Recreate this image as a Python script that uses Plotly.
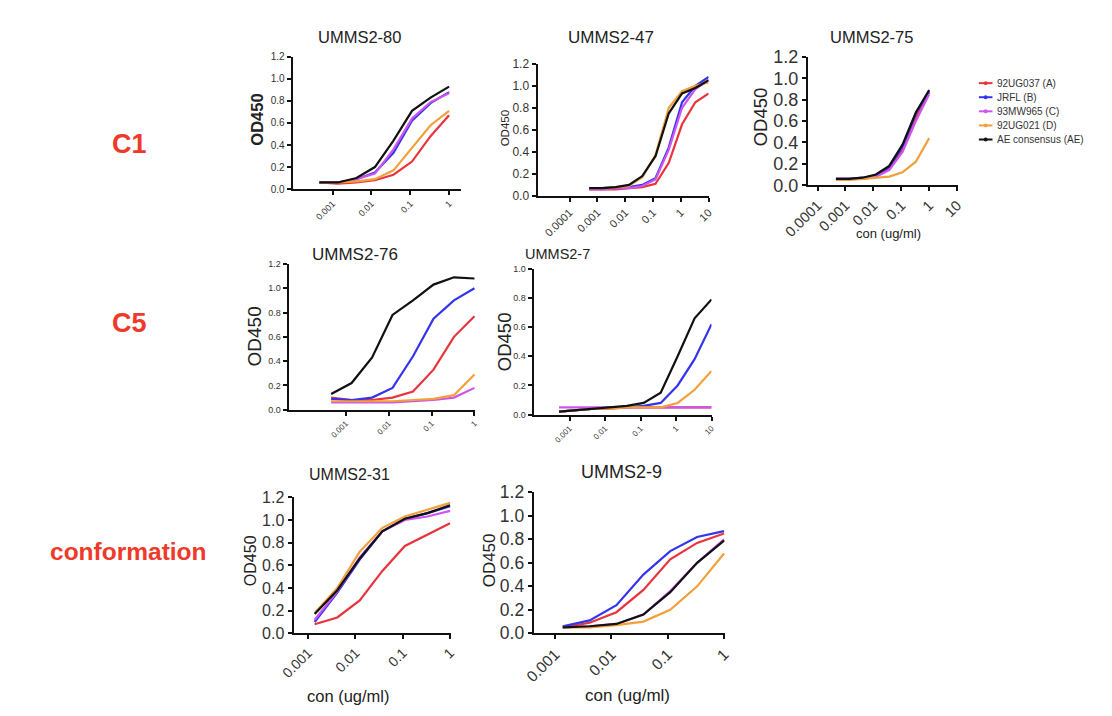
import plotly.graph_objects as go

W, H = 1112, 716

# ---------------- data ----------------
series_names = ["92UG037 (A)", "JRFL (B)", "93MW965 (C)", "92UG021 (D)", "AE consensus (AE)"]
series_colors = ["#e8343c", "#3434ee", "#cc55ee", "#f2a03c", "#111111"]

conc8 = [0.000457, 0.00137, 0.00412, 0.0123, 0.037, 0.111, 0.333, 1]
conc10 = [0.000508, 0.00152, 0.00457, 0.0137, 0.0412, 0.123, 0.370, 1.11, 3.33, 10]
conc7 = [0.00137, 0.00412, 0.0123, 0.037, 0.111, 0.333, 1]

# order of series: A, B, C, D, AE
umms2_80 = [
    [0.06, 0.05, 0.06, 0.08, 0.13, 0.25, 0.48, 0.67],
    [0.06, 0.06, 0.09, 0.15, 0.33, 0.62, 0.78, 0.88],
    [0.06, 0.06, 0.09, 0.14, 0.36, 0.64, 0.79, 0.87],
    [0.06, 0.06, 0.07, 0.09, 0.17, 0.38, 0.58, 0.71],
    [0.06, 0.06, 0.10, 0.20, 0.44, 0.71, 0.83, 0.93],
]
umms2_47 = [
    [0.06, 0.06, 0.06, 0.07, 0.08, 0.11, 0.30, 0.65, 0.85, 0.93],
    [0.07, 0.07, 0.08, 0.08, 0.10, 0.16, 0.44, 0.85, 1.00, 1.08],
    [0.06, 0.06, 0.07, 0.07, 0.09, 0.15, 0.42, 0.80, 0.97, 1.05],
    [0.07, 0.07, 0.08, 0.09, 0.17, 0.37, 0.80, 0.95, 1.00, 1.03],
    [0.07, 0.07, 0.08, 0.10, 0.18, 0.36, 0.75, 0.93, 0.98, 1.05],
]
umms2_75 = [
    [0.06, 0.06, 0.06, 0.08, 0.15, 0.33, 0.63, 0.87],
    [0.06, 0.06, 0.07, 0.09, 0.17, 0.36, 0.67, 0.88],
    [0.06, 0.06, 0.06, 0.08, 0.14, 0.31, 0.60, 0.85],
    [0.05, 0.05, 0.06, 0.07, 0.08, 0.12, 0.22, 0.44],
    [0.06, 0.06, 0.07, 0.10, 0.18, 0.38, 0.68, 0.89],
]
umms2_76 = [
    [0.10, 0.08, 0.08, 0.10, 0.15, 0.33, 0.60, 0.77],
    [0.09, 0.08, 0.10, 0.18, 0.44, 0.75, 0.90, 1.00],
    [0.06, 0.06, 0.06, 0.06, 0.07, 0.08, 0.10, 0.18],
    [0.07, 0.07, 0.07, 0.07, 0.08, 0.09, 0.12, 0.29],
    [0.13, 0.22, 0.43, 0.78, 0.90, 1.03, 1.09, 1.08],
]
umms2_7 = [
    [0.02, 0.03, 0.04, 0.04, 0.05, 0.05, 0.05, 0.05, 0.05, 0.05],
    [0.02, 0.03, 0.04, 0.05, 0.05, 0.06, 0.08, 0.20, 0.38, 0.62],
    [0.05, 0.05, 0.05, 0.05, 0.05, 0.05, 0.05, 0.05, 0.05, 0.05],
    [0.02, 0.03, 0.04, 0.04, 0.05, 0.05, 0.05, 0.08, 0.17, 0.30],
    [0.02, 0.03, 0.04, 0.05, 0.06, 0.08, 0.15, 0.40, 0.66, 0.79],
]
umms2_31 = [
    [0.08, 0.14, 0.29, 0.55, 0.77, 0.87, 0.97],
    [0.10, 0.36, 0.65, 0.90, 1.01, 1.06, 1.12],
    [0.12, 0.37, 0.67, 0.90, 1.00, 1.03, 1.08],
    [0.18, 0.40, 0.72, 0.93, 1.03, 1.09, 1.15],
    [0.17, 0.38, 0.66, 0.90, 1.01, 1.06, 1.13],
]
umms2_9 = [
    [0.05, 0.09, 0.18, 0.37, 0.63, 0.77, 0.85],
    [0.06, 0.11, 0.24, 0.50, 0.70, 0.82, 0.87],
    [0.05, 0.06, 0.08, 0.16, 0.36, 0.60, 0.80],
    [0.05, 0.05, 0.07, 0.10, 0.20, 0.40, 0.68],
    [0.05, 0.06, 0.08, 0.16, 0.35, 0.60, 0.79],
]

ticks_4 = ["0.001", "0.01", "0.1", "1"]
ticks_5 = ["0.001", "0.01", "0.1", "1", "10"]
ticks_6 = ["0.0001", "0.001", "0.01", "0.1", "1", "10"]

row_labels = ["C1", "C5", "conformation"]
x_title = "con (ug/ml)"
y_title = "OD450"

# ---------------- panel layout (pixels) ----------------
panels = [
    dict(title="UMMS2-80", x=conc8, data=umms2_80, tt=ticks_4, l=267, r=440, t=40, b=176,
         xr=[-4.03, 0.3], ymax=1.2, xf=9, yf=10, tpos=(336, 20, 16.5), ylab=(230, 105, 16.5, True)),
    dict(title="UMMS2-47", x=conc10, data=umms2_47, tt=ticks_6, l=519, r=695, t=47, b=183,
         xr=[-5.15, 1.0], ymax=1.2, xf=11, yf=12, tpos=(595, 20, 17), ylab=(485, 113, 11.5, False)),
    dict(title="UMMS2-75", x=conc8, data=umms2_75, tt=ticks_6, l=797, r=952, t=40, b=172,
         xr=[-4.35, 1.05], ymax=1.2, xf=14.5, yf=18, tpos=(863, 20, 16.5), ylab=(748, 102, 18.5, False)),
    dict(title="UMMS2-76", x=conc8, data=umms2_76, tt=ticks_4, l=263, r=455, t=253, b=403,
         xr=[-4.33, 0.02], ymax=1.2, xf=8, yf=9, tpos=(331, 243, 17), ylab=(228, 328, 19, False)),
    dict(title="UMMS2-7", x=conc10, data=umms2_7, tt=ticks_5, l=515, r=698, t=258, b=408,
         xr=[-4.01, 1.0], ymax=1.0, xf=8, yf=9, tpos=(540, 243, 14.5), ylab=(485, 333, 18.5, False)),
    dict(title="UMMS2-31", x=conc7, data=umms2_31, tt=ticks_4, l=268, r=430, t=493, b=633,
         xr=[-3.31, 0.02], ymax=1.2, xf=14, yf=16, tpos=(326, 470, 16), ylab=(224, 558, 16, False)),
    dict(title="UMMS2-9", x=conc7, data=umms2_9, tt=ticks_4, l=515, r=712, t=488, b=633,
         xr=[-3.38, 0.02], ymax=1.2, xf=15.5, yf=17.5, tpos=(605, 467, 18), ylab=(469, 558, 17, False)),
]

FONT = "Liberation Sans, Arial, sans-serif"
fig = go.Figure()
annotations = []
shapes = []


def px(x):
    return x / W


def py(y):
    return 1 - y / H


for i, p in enumerate(panels):
    n = "" if i == 0 else str(i + 1)
    xa, ya = "x" + n, "y" + n
    for k in range(5):
        fig.add_trace(go.Scatter(
            x=p["x"], y=p["data"][k], mode="lines", xaxis=xa, yaxis=ya,
            line=dict(color=series_colors[k], width=2.2), name=series_names[k],
            showlegend=False, hoverinfo="skip"))
    tickvals = [float(t) for t in p["tt"]]
    xkey = "xaxis" + n
    ykey = "yaxis" + n
    fig.update_layout(**{
        xkey: dict(domain=[px(p["l"]), px(p["r"])], anchor=ya, type="log", range=p["xr"],
                   tickvals=tickvals, ticktext=p["tt"], tickangle=-45,
                   showline=True, linecolor="#111", linewidth=2, ticks="outside",
                   ticklen=4, tickwidth=1.5, tickcolor="#111", showgrid=False, zeroline=False,
                   tickfont=dict(size=p["xf"], color="#333", family=FONT), fixedrange=True),
        ykey: dict(domain=[py(p["b"]), py(p["t"])], anchor=xa, range=[0, p["ymax"]],
                   dtick=0.2, tick0=0, tickformat=".1f",
                   showline=True, linecolor="#111", linewidth=2, ticks="outside",
                   ticklen=4, tickwidth=1.5, tickcolor="#111", showgrid=False, zeroline=False,
                   tickfont=dict(size=p["yf"], color="#333", family=FONT), fixedrange=True),
    })
    tx, ty, ts = p["tpos"]
    annotations.append(dict(text=p["title"], x=px(tx), y=py(ty), xref="paper", yref="paper",
                            showarrow=False, xanchor="center", yanchor="middle",
                            font=dict(size=ts, color="#222", family=FONT)))
    lx, ly, ls, bold = p["ylab"]
    annotations.append(dict(text=("<b>%s</b>" % y_title) if bold else y_title, x=px(lx), y=py(ly),
                            xref="paper", yref="paper", showarrow=False, textangle=-90,
                            xanchor="center", yanchor="middle",
                            font=dict(size=ls, color="#222", family=FONT)))

# x axis titles
for (cx, cy, cs) in [(880, 222, 13), (325, 697, 16.5), (612, 697, 17)]:
    annotations.append(dict(text=x_title, x=px(cx), y=py(cy), xref="paper", yref="paper",
                            showarrow=False, xanchor="center", yanchor="middle",
                            font=dict(size=cs, color="#222", family=FONT)))

# row labels
for (lab, cx, cy, cs) in [(row_labels[0], 99, 130, 27), (row_labels[1], 99, 314, 27),
                          (row_labels[2], 98, 549, 24.5)]:
    annotations.append(dict(text="<b>%s</b>" % lab, x=px(cx), y=py(cy), xref="paper", yref="paper",
                            showarrow=False, xanchor="center", yanchor="middle",
                            font=dict(size=cs, color="#ee3a2a", family=FONT)))

# manual legend
for k in range(5):
    yy = 67 + 14.5 * k
    shapes.append(dict(type="line", xref="paper", yref="paper", x0=px(973), x1=px(987),
                       y0=py(yy), y1=py(yy), line=dict(color=series_colors[k], width=2)))
    shapes.append(dict(type="circle", xref="paper", yref="paper", x0=px(978), x1=px(982),
                       y0=py(yy + 2), y1=py(yy - 2), fillcolor=series_colors[k],
                       line=dict(color=series_colors[k], width=0)))
    annotations.append(dict(text=series_names[k], x=px(990), y=py(yy), xref="paper", yref="paper",
                            showarrow=False, xanchor="left", yanchor="middle",
                            font=dict(size=10, color="#333", family=FONT)))

fig.update_layout(width=W, height=H, margin=dict(l=0, r=0, t=0, b=0),
                  paper_bgcolor="white", plot_bgcolor="white",
                  annotations=annotations, shapes=shapes, showlegend=False)

fig.write_html("out.html")
